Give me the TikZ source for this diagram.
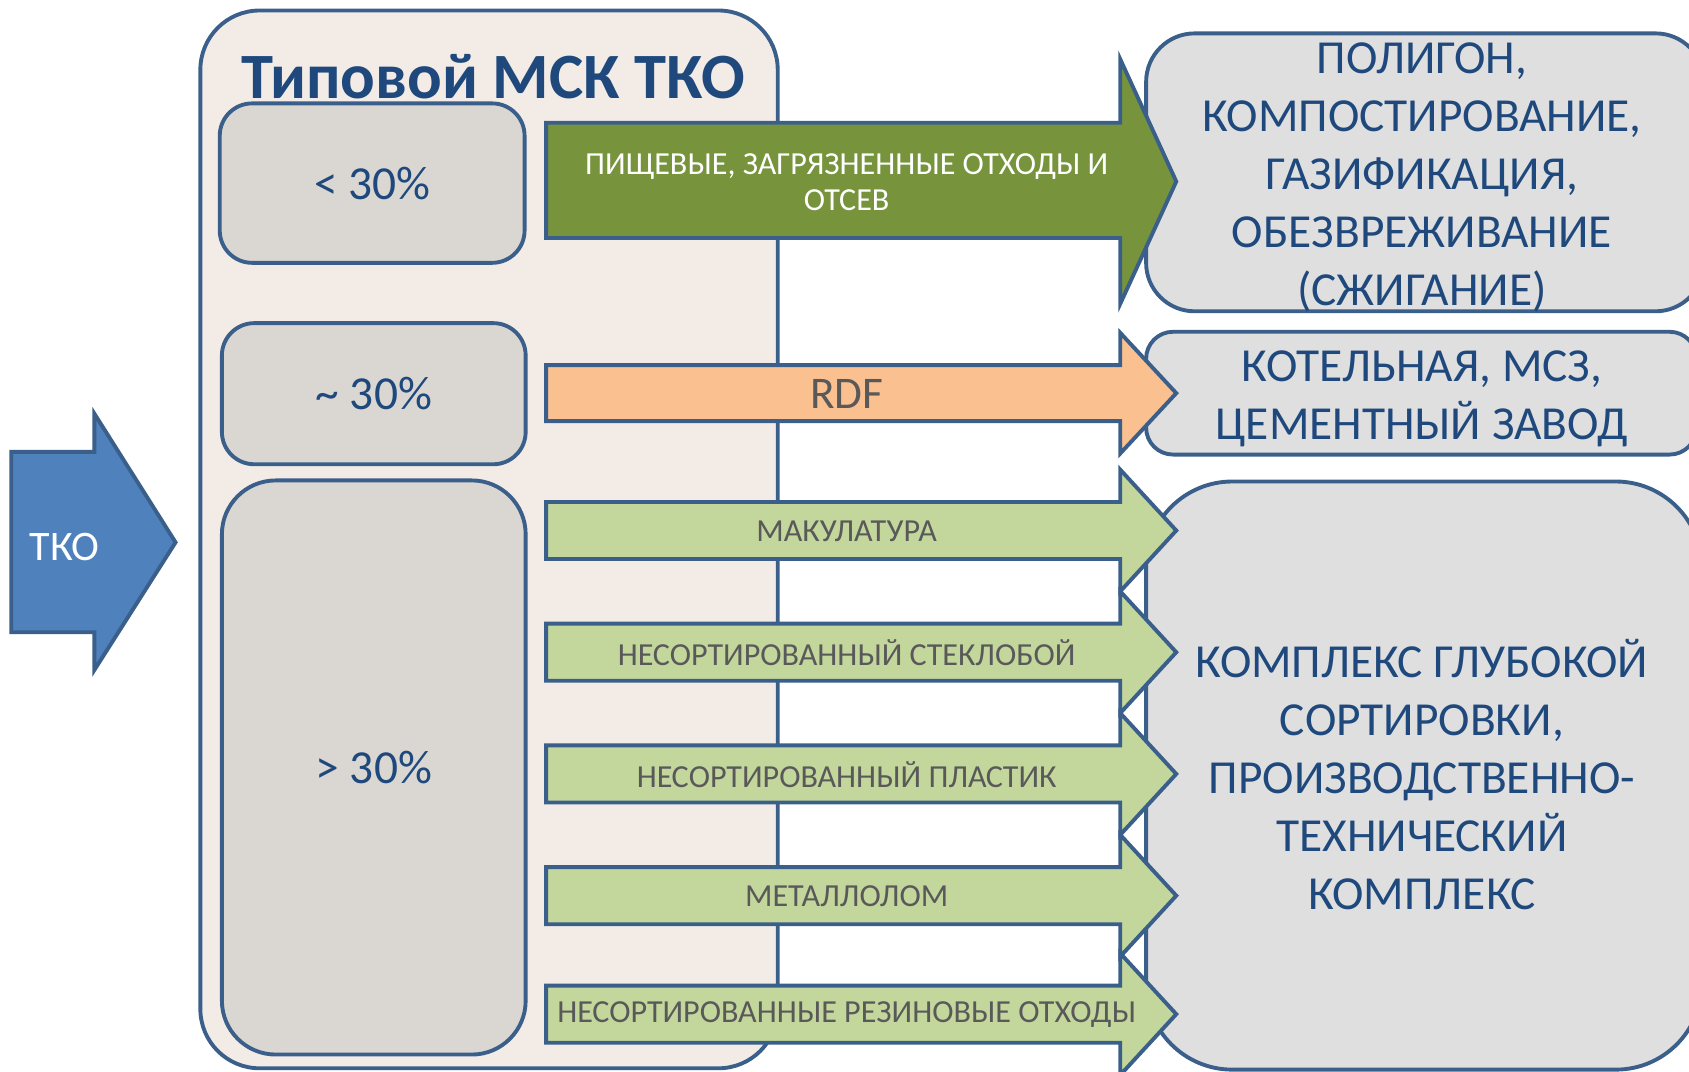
\documentclass[tikz,border=0pt]{standalone}
\usepackage{fontspec}
\setmainfont{Carlito}
\definecolor{lineblue}{HTML}{3A5F8B}
\definecolor{textblue}{HTML}{1F497D}
\definecolor{mainfill}{HTML}{F3ECE6}
\definecolor{pctfill}{HTML}{DAD7D2}
\definecolor{destfill}{HTML}{DFDFDF}
\definecolor{darkgreen}{HTML}{77933C}
\definecolor{lightgreen}{HTML}{C3D69B}
\definecolor{rdforange}{HTML}{FAC090}
\definecolor{tkoblue}{HTML}{4F81BD}
\definecolor{labelgray}{HTML}{595959}
\begin{document}
\begin{tikzpicture}[x=0.5pt,y=-0.5pt,
  edge/.style={draw=lineblue, line width=1.8pt},
  mainbox/.style={edge, fill=mainfill, rounded corners=27.5pt, minimum width=268pt, minimum height=491pt, inner sep=0pt},
  pct/.style={edge, fill=pctfill, inner sep=0pt, text=textblue, font=\fontsize{22}{27}\selectfont},
  dest/.style={edge, fill=destfill, inner sep=0pt},
  desttext/.style={inner sep=0pt, text=textblue, align=center, font=\fontsize{22}{26.9}\selectfont},
  flow/.style={edge, line join=miter},
  flowlabel/.style={inner sep=0pt, text=labelgray, font=\fontsize{14.9}{17}\selectfont}
]
\path[use as bounding box] (0,0) rectangle (1568,995);
\clip (0,0) rectangle (1568,995);

% main container
\node[mainbox] (msk) at (454,500.75) {};
\node[anchor=base, text=textblue, inner sep=0pt, font=\fontsize{30}{36}\selectfont\bfseries] (title) at (458,91) {Типовой МСК ТКО};

% share boxes
\node[pct, rounded corners=15pt, minimum width=141.5pt, minimum height=74pt] (p1) at (345.5,170) {< 30\%};
\node[pct, rounded corners=15pt, minimum width=141pt, minimum height=65.5pt] (p2) at (347,365.5) {\textasciitilde{} 30\%};
\node[pct, rounded corners=25pt, minimum width=141pt, minimum height=266.5pt] (p3) at (347,712.5) {> 30\%};

% destination boxes
\node[dest, rounded corners=22.5pt, minimum width=259pt, minimum height=129pt] (r1) at (1323,160) {};
\node[desttext] (r1t) at (1320,164.5)
  {ПОЛИГОН,\\КОМПОСТИРОВАНИЕ,\\ГАЗИФИКАЦИЯ,\\ОБЕЗВРЕЖИВАНИЕ\\(СЖИГАНИЕ)};
\node[dest, rounded corners=12.5pt, minimum width=255.5pt, minimum height=57pt] (r2) at (1319.5,365) {};
\node[desttext] (r2t) at (1320,370.5)
  {КОТЕЛЬНАЯ, МСЗ,\\ЦЕМЕНТНЫЙ ЗАВОД};
\node[dest, rounded corners=40pt, minimum width=258pt, minimum height=273pt] (r3) at (1322,720) {};
\node[desttext] (r3t) at (1320,719)
  {КОМПЛЕКС ГЛУБОКОЙ\\СОРТИРОВКИ,\\ПРОИЗВОДСТВЕННО-\\ТЕХНИЧЕСКИЙ\\КОМПЛЕКС};

% block arrows
\draw[flow, fill=darkgreen] (507,114) -- (1040,114) -- (1040,55) -- (1092,168.5) -- (1040,282) -- (1040,221) -- (507,221) -- cycle;
\draw[flow, fill=rdforange] (507,339) -- (1040,339) -- (1040,309) -- (1092,365) -- (1040,421) -- (1040,391) -- (507,391) -- cycle;
\draw[flow, fill=lightgreen] (507,466) -- (1040,466) -- (1040,436) -- (1092,492.5) -- (1040,549) -- (1040,519) -- (507,519) -- cycle;
\draw[flow, fill=lightgreen] (507,579) -- (1040,579) -- (1040,549) -- (1092,605.5) -- (1040,662) -- (1040,632) -- (507,632) -- cycle;
\draw[flow, fill=lightgreen] (507,692) -- (1040,692) -- (1040,662) -- (1092,718.5) -- (1040,775) -- (1040,745) -- (507,745) -- cycle;
\draw[flow, fill=lightgreen] (507,805) -- (1040,805) -- (1040,775) -- (1092,831.5) -- (1040,888) -- (1040,858) -- (507,858) -- cycle;
\draw[flow, fill=lightgreen] (507,915) -- (1040,915) -- (1040,885) -- (1092,941.5) -- (1040,998) -- (1040,968) -- (507,968) -- cycle;

\node[flowlabel, text=white, align=center] (a1) at (786,169) {ПИЩЕВЫЕ, ЗАГРЯЗНЕННЫЕ ОТХОДЫ И\\ОТСЕВ};
\node[flowlabel, font=\fontsize{21}{25}\selectfont] (a2) at (786,366) {RDF};
\node[flowlabel] (a3) at (786,493) {МАКУЛАТУРА};
\node[flowlabel] (a4) at (786,606) {НЕСОРТИРОВАННЫЙ СТЕКЛОБОЙ};
\node[flowlabel] (a5) at (786,719) {НЕСОРТИРОВАННЫЙ ПЛАСТИК};
\node[flowlabel] (a6) at (786,832) {МЕТАЛЛОЛОМ};
\node[flowlabel] (a7) at (786,942) {НЕСОРТИРОВАННЫЕ РЕЗИНОВЫЕ ОТХОДЫ};

% input arrow
\draw[flow, fill=tkoblue] (10.5,419.5) -- (87.6,419.5) -- (87.6,384) -- (163,503.5) -- (87.6,622) -- (87.6,587) -- (10.5,587) -- cycle;
\node[inner sep=0pt, text=white, font=\fontsize{19.5}{23}\selectfont] (tko) at (60,508) {ТКО};
\end{tikzpicture}
\end{document}
